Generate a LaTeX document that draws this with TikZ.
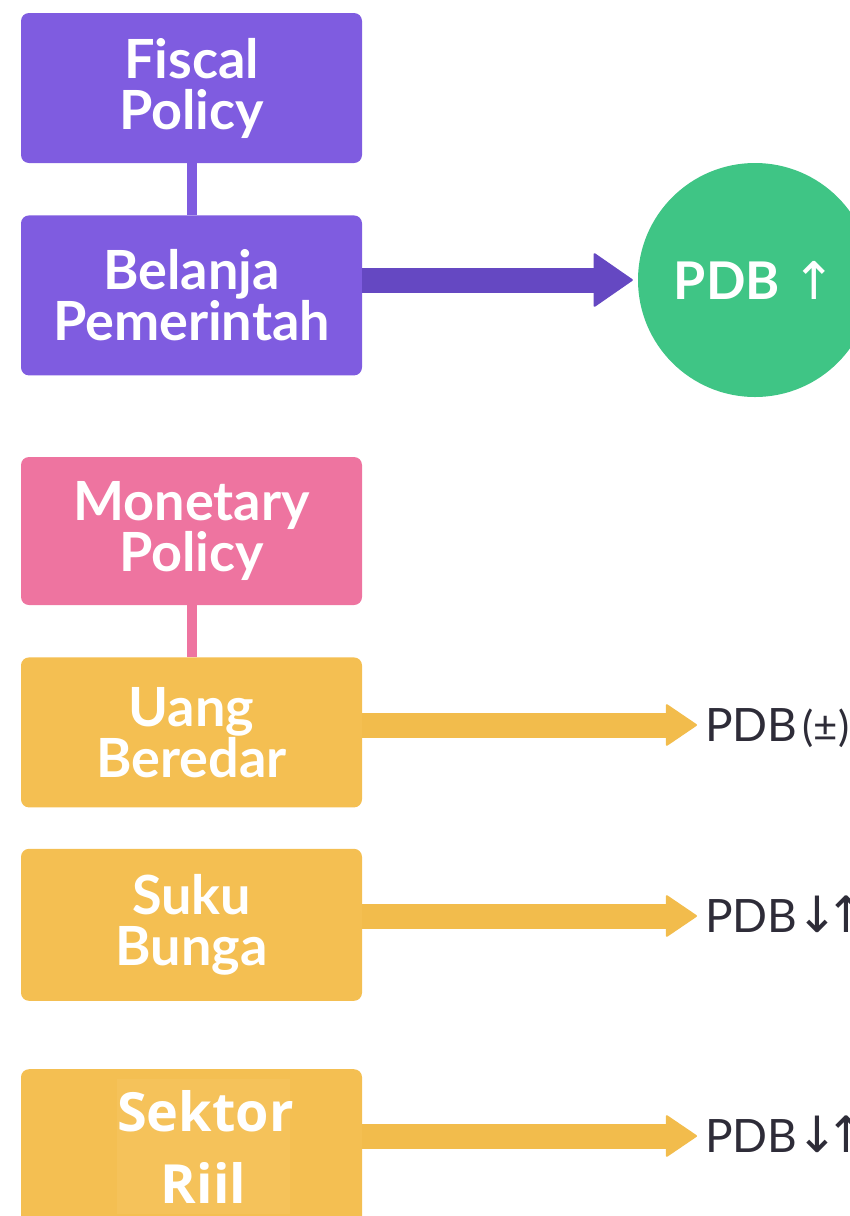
\documentclass[tikz,border=0pt]{standalone}
\usepackage{fontspec}
\setmainfont{Lato}
\newfontfamily\riilfont{Open Sans}
\newfontfamily\arrowfont{DejaVu Sans}
\usetikzlibrary{arrows.meta, positioning}
\definecolor{fiscalcol}{HTML}{7F5CE0}
\definecolor{fiscalarrow}{HTML}{6548C2}
\definecolor{monetarycol}{HTML}{EE74A0}
\definecolor{channelcol}{HTML}{F4BF52}
\definecolor{channelarrow}{HTML}{F2BC4C}
\definecolor{patchcol}{HTML}{F5C25A}
\definecolor{growthcol}{HTML}{3FC585}
\definecolor{labelcol}{HTML}{2E2C38}
\tikzstyle{policy} = [rectangle, rounded corners=8pt, minimum width=341pt, text width=330pt, inner sep=0pt, align=center, text=white, font=\fontsize{54}{51}\selectfont\bfseries]
\tikzstyle{link} = [line width=10pt]
\tikzstyle{effect} = [line width=25pt, -{Triangle[length=32pt, width=43pt, line width=2pt, round]}]
\tikzstyle{outcome} = [anchor=west, inner xsep=8pt, inner ysep=0pt, text height=33pt, text depth=0pt, text=labelcol, font=\fontsize{46}{46}\selectfont]
\newcommand{\updown}{{\arrowfont\fontsize{50}{50}\selectfont\kern-1pt↓\kern-13pt↑}}

\begin{document}
\begin{tikzpicture}[x=1pt, y=-1pt]
    \path[use as bounding box, clip] (0,0) rectangle (850,1216);
    \node (Fiscal) [policy, fill=fiscalcol, minimum height=150pt] at (191.5,88) {Fiscal\\Policy};
    \node (Belanja) [policy, fill=fiscalcol, minimum height=160pt, below=52pt of Fiscal] {Belanja\\Pemerintah};
    \node (Growth) [circle, fill=growthcol, minimum size=234pt, text=white, font=\fontsize{52}{52}\selectfont\bfseries] at (755,280) {PDB {\arrowfont\mdseries↑}};
    \node (Monetary) [policy, fill=monetarycol, minimum height=148pt] at (191.5,531) {Monetary\\Policy};
    \node (Uang) [policy, fill=channelcol, minimum height=150pt, below=52pt of Monetary] {Uang\\Beredar};
    \node (Suku) [policy, fill=channelcol, minimum height=152pt, below=41pt of Uang] {Suku\\Bunga};
    \node (Sektor) [policy, fill=channelcol, minimum height=155pt, below=68pt of Suku] {};
    \node (SektorText) [fill=patchcol, text width=173pt, inner xsep=0pt, inner ysep=11pt, align=center, text=white, font=\riilfont\fontsize{54}{72}\selectfont\bfseries] at ([xshift=12pt]Sektor.center) {Sektor\\Riil};
    \node (UangOut) [outcome] at (697,725) {PDB\kern5pt{\fontsize{42}{42}\selectfont(±)}};
    \node (SukuOut) [outcome] at (697,916) {PDB\updown};
    \node (SektorOut) [outcome] at (697,1136) {PDB\updown};
    \draw [link, fiscalcol] (Fiscal.south) -- (Belanja.north);
    \draw [link, monetarycol] (Monetary.south) -- (Uang.north);
    \draw [effect, fiscalarrow, -{Triangle[length=40pt, width=55pt, line width=2pt, round]}, shorten >=5pt] (Belanja.east |- Growth.west) -- (Growth.west);
    \draw [effect, channelarrow] (Uang.east |- UangOut.west) -- (UangOut.west);
    \draw [effect, channelarrow] (Suku.east |- SukuOut.west) -- (SukuOut.west);
    \draw [effect, channelarrow] (Sektor.east |- SektorOut.west) -- (SektorOut.west);
\end{tikzpicture}
\end{document}
